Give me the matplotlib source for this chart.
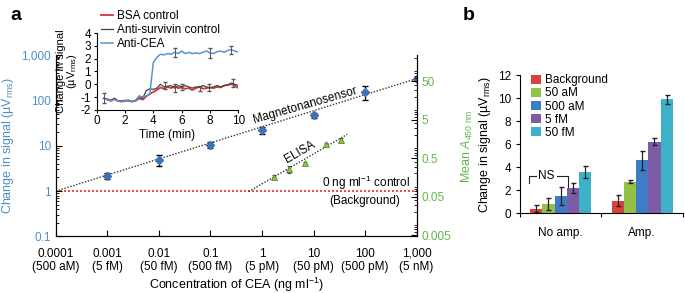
import numpy as np
import matplotlib
matplotlib.use('Agg')
import matplotlib.pyplot as plt
from matplotlib.ticker import LogLocator, NullLocator, NullFormatter, FixedLocator

plt.rcParams['font.family'] = ['Liberation Sans', 'DejaVu Sans']
plt.rcParams['mathtext.fontset'] = 'custom'
plt.rcParams['mathtext.rm'] = 'Liberation Sans'
plt.rcParams['mathtext.it'] = 'Liberation Sans:italic'
fs = 8.5

blue_c = '#4a8fc9'
green_c = '#5fb84a'
mark_blue = '#3f72b5'
mark_green = '#8dc63f'

# ---- panel a data ----
conc = [1e-4, 1e-3, 1e-2, 1e-1, 1, 10, 100, 1000]
conc_labels = ['0.0001\n(500 aM)', '0.001\n(5 fM)', '0.01\n(50 fM)', '0.1\n(500 fM)',
               '1\n(5 pM)', '10\n(50 pM)', '100\n(500 pM)', '1,000\n(5 nM)']
mns_x = [1e-3, 1e-2, 1e-1, 1, 10, 100, 1000]
mns_y = [2.17, 4.96, 10.6, 22.1, 46.6, 153, 303]
mns_err = [0.35, 1.35, 1.6, 3.5, 6.0, 50, 20]
mns_fit_x = [1e-4, 1000]
mns_fit_y = [1.0, 303]
background = 1.0

elisa_x = [1.69, 3.4, 6.8, 17.6, 34.4]
elisa_y = [0.164, 0.256, 0.366, 1.14, 1.48]
elisa_err = [0.02, 0.05, 0.04, 0.12, 0.15]
elisa_fit_x = [0.55, 45]
elisa_fit_y = [0.0673, 2.08]

# ---- inset data ----
t = [0.5, 0.75, 1.0, 1.25, 1.5, 1.75, 2.0, 2.25, 2.5, 2.75, 3.0, 3.25, 3.5, 3.75, 4.0,
     4.25, 4.5, 4.75, 5.0, 5.25, 5.5, 5.75, 6.0, 6.25, 6.5, 6.75, 7.0, 7.25, 7.5, 7.75,
     8.0, 8.25, 8.5, 8.75, 9.0, 9.25, 9.5, 9.75, 10.0]
bsa = [-1.1, -1.15, -1.3, -1.1, -1.3, -1.35, -1.3, -1.25, -1.35, -1.3, -1.1, -1.2, -0.95,
       -0.75, -0.6, -0.45, -0.25, -0.35, -0.2, -0.3, -0.15, -0.3, -0.25, -0.35, -0.3,
       -0.45, -0.3, -0.2, -0.35, -0.3, -0.25, -0.3, -0.2, -0.25, -0.1, -0.05, 0.0, -0.1, -0.3]
surv = [-1.1, -1.2, -1.25, -1.15, -1.3, -1.3, -1.25, -1.3, -1.35, -1.25, -0.95, -1.1, -0.5,
        -0.35, -0.4, -0.3, 0.0, -0.2, -0.15, -0.1, -0.3, -0.1, -0.2, -0.1, -0.2, -0.3,
        -0.2, -0.25, -0.1, -0.2, -0.3, -0.2, -0.1, -0.2, -0.1, -0.05, 0.1, 0.0, -0.1]
cea = [-1.1, -1.2, -1.3, -1.2, -1.3, -1.35, -1.3, -1.25, -1.35, -1.3, -0.9, -1.0, -0.9,
       -0.8, 1.7, 2.1, 2.35, 2.3, 2.4, 2.35, 2.5, 2.4, 2.6, 2.4, 2.5, 2.4, 2.45, 2.4,
       2.5, 2.6, 2.45, 2.4, 2.55, 2.6, 2.5, 2.65, 2.7, 2.6, 2.5]
cea_eb_t = [0.5, 5.5, 8.0, 9.5]
cea_eb_y = [-1.1, 2.5, 2.45, 2.7]
cea_eb_e = [0.4, 0.35, 0.4, 0.3]
ctl_eb_t = [4.8, 5.5, 6.0, 7.3, 7.9, 9.6]
ctl_eb_y = [-0.1, -0.3, -0.2, -0.3, -0.25, 0.1]
ctl_eb_e = [0.3, 0.3, 0.25, 0.2, 0.25, 0.3]
inset_yticks = [-2, -1, 0, 1, 2, 3, 4]

# ---- panel b data ----
groups = ['No amp.', 'Amp.']
series = ['Background', '50 aM', '500 aM', '5 fM', '50 fM']
bar_colors = ['#d9413b', '#93c146', '#3f7cc6', '#7d5ba6', '#3eb1c8']
vals = [[0.4, 1.1], [0.8, 2.75], [1.5, 4.6], [2.2, 6.2], [3.6, 9.9]]
errs = [[0.3, 0.5], [0.5, 0.1], [0.8, 0.8], [0.45, 0.3], [0.5, 0.4]]

fig = plt.figure(figsize=(6.85, 2.93), dpi=100)

# ================= panel a =================
ax = fig.add_axes([0.0813, 0.193, 0.527, 0.619])
ax.set_xscale('log')
ax.set_yscale('log')
ax.set_xlim(1e-4, 1000)
ax.set_ylim(0.1, 1000)
ax.axhline(background, color='#e03030', ls=(0, (1.2, 1.2)), lw=1.2, zorder=1)
ax.plot(mns_fit_x, mns_fit_y, ls=(0, (1, 1.2)), color='#333333', lw=1, zorder=2)
ax.errorbar(mns_x, mns_y, yerr=mns_err, fmt='D', color=mark_blue, ms=4.5,
            ecolor='black', elinewidth=0.9, capsize=2, zorder=3)
ax.set_xticks(conc)
ax.set_xticklabels(conc_labels, fontsize=fs)
ax.xaxis.set_minor_locator(NullLocator())
ax.set_yticks([0.1, 1, 10, 100, 1000])
ax.set_yticklabels(['0.1', '1', '10', '100', '1,000'], fontsize=fs, color=blue_c)
ax.yaxis.set_minor_locator(LogLocator(base=10, subs=np.arange(2, 10)))
ax.yaxis.set_minor_formatter(NullFormatter())
ax.tick_params(direction='in', which='both', right=False, top=False)
ax.tick_params(which='major', length=4)
ax.tick_params(which='minor', length=2.5)
ax.tick_params(axis='x', pad=8)
ax.spines['top'].set_visible(False)
ax.set_xlabel('Concentration of CEA (ng ml$^{-1}$)', fontsize=fs + 0.5, labelpad=2)
ax.set_ylabel('Change in signal (µV$_{\\mathrm{rms}}$)', fontsize=fs + 0.5,
              color=blue_c, labelpad=4)

ax2 = ax.twinx()
ax2.set_yscale('log')
ax2.set_ylim(0.0046, 240)
ax2.plot(elisa_fit_x, elisa_fit_y, ls=(0, (1, 1.2)), color='#333333', lw=1, zorder=2)
ax2.errorbar(elisa_x, elisa_y, yerr=elisa_err, fmt='^', color=mark_green, ms=5,
             mec='#4a7a20', mew=0.5, ecolor='black', elinewidth=0.8, capsize=1.5, zorder=3)
ax2.set_yticks([0.005, 0.05, 0.5, 5, 50])
ax2.set_yticklabels(['0.005', '0.05', '0.5', '5', '50'], fontsize=fs, color=green_c)
ax2.yaxis.set_minor_locator(LogLocator(base=10, subs=np.arange(2, 10)))
ax2.yaxis.set_minor_formatter(NullFormatter())
ax2.tick_params(direction='in', which='both')
ax2.tick_params(which='major', length=4)
ax2.tick_params(which='minor', length=2.5)
ax2.spines['top'].set_visible(False)
ax2.set_ylabel('Mean $A_{450\\ \\mathrm{nm}}$', fontsize=fs + 0.5, color=green_c,
               labelpad=6)

fig.text(305 / 685, 1 - 105 / 293, 'Magnetonanosensor', fontsize=fs, rotation=16,
         ha='center', va='center')
fig.text(300 / 685, 1 - 152 / 293, 'ELISA', fontsize=fs, rotation=30,
         ha='center', va='center')
fig.text(366 / 685, 1 - 183 / 293, '0 ng ml$^{-1}$ control', fontsize=fs,
         ha='center', va='center')
fig.text(365 / 685, 1 - 201 / 293, '(Background)', fontsize=fs,
         ha='center', va='center')

# ---- inset ----
ins = fig.add_axes([0.141, 0.625, 0.207, 0.262])
ins.plot(t, bsa, color='#d7303a', lw=1.3, label='BSA control')
ins.plot(t, surv, color='#444444', lw=0.9, label='Anti-survivin control')
ins.plot(t, cea, color='#5a93d0', lw=1.1, label='Anti-CEA')
ins.errorbar(cea_eb_t, cea_eb_y, yerr=cea_eb_e, fmt='none', ecolor='#555555',
             elinewidth=0.7, capsize=1.5)
ins.errorbar(ctl_eb_t, ctl_eb_y, yerr=ctl_eb_e, fmt='none', ecolor='#555555',
             elinewidth=0.7, capsize=1.5)
ins.set_xlim(0, 10)
ins.set_ylim(-2, 4)
ins.set_xticks([0, 2, 4, 6, 8, 10])
ins.set_yticks(inset_yticks)
ins.set_yticklabels([str(v) for v in inset_yticks])
ins.tick_params(labelsize=fs, length=2.5, pad=1.5)
ins.spines['top'].set_visible(False)
ins.spines['right'].set_visible(False)
ins.patch.set_alpha(0)
ins.set_xlabel('Time (min)', fontsize=fs, labelpad=1)
ins.set_ylabel('Change in signal\n(µV$_{\\mathrm{rms}}$)', fontsize=8,
               linespacing=0.85)
ins.yaxis.set_label_coords(-0.125, 0.5)
ins.legend(loc='upper left', bbox_to_anchor=(0.0, 1.36), frameon=False, fontsize=fs,
           handlelength=1.0, handletextpad=0.3, labelspacing=0.15, borderaxespad=0)

# ================= panel b =================
bx = fig.add_axes([0.759, 0.272, 0.238, 0.472])
width = 0.15
centers = np.array([0.5, 1.5])
for i, (name, col) in enumerate(zip(series, bar_colors)):
    bx.bar(centers + (i - 2) * width, vals[i], width, yerr=errs[i], color=col,
           label=name, error_kw=dict(ecolor='#222222', elinewidth=0.9, capsize=1.8))
bx.set_xlim(0, 2)
bx.set_ylim(0, 12)
bx.set_yticks(range(0, 13, 2))
bx.xaxis.set_major_locator(FixedLocator([0, 1, 2]))
bx.set_xticklabels([])
bx.xaxis.set_minor_locator(FixedLocator(list(centers)))
bx.set_xticklabels(groups, minor=True, fontsize=fs)
bx.tick_params(axis='x', which='minor', length=0, pad=10)
bx.tick_params(axis='both', which='major', labelsize=fs, length=3)
bx.spines['top'].set_visible(False)
bx.spines['right'].set_visible(False)
bx.set_ylabel('Change in signal (µV$_{\\mathrm{rms}}$)', fontsize=fs + 0.5, labelpad=3)
bx.legend(loc='upper left', bbox_to_anchor=(0.04, 1.04), frameon=False, fontsize=fs,
          handlelength=0.8, handleheight=0.8, handletextpad=0.4, labelspacing=0.1,
          borderaxespad=0)

# NS bracket
ns_y = 3.25
bx.plot([0.115, 0.115, 0.2], [2.6, ns_y, ns_y], color='#222222', lw=0.8)
bx.plot([0.45, 0.585, 0.585], [ns_y, ns_y, 2.3], color='#222222', lw=0.8)
bx.text(0.325, ns_y, 'NS', fontsize=fs, ha='center', va='center')

fig.text(10 / 685, 1 - 15 / 293, 'a', fontsize=14, fontweight='bold', ha='left', va='center')
fig.text(463 / 685, 1 - 15 / 293, 'b', fontsize=14, fontweight='bold', ha='left', va='center')

fig.savefig('out.png', dpi=100)
